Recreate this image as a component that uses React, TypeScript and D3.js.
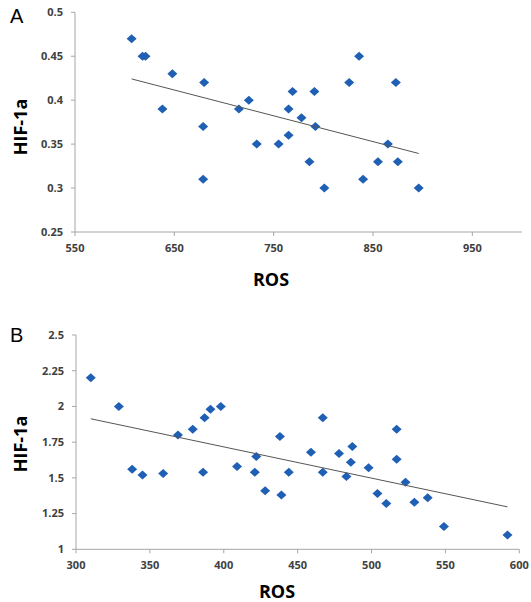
import * as d3 from "d3";

// panel A: ROS vs HIF-1a
const rosA = [607, 618, 621, 648, 680, 638, 679, 679, 715, 725, 733, 755, 765, 765, 769, 778, 791, 792, 786, 801, 826, 836, 840, 855, 865, 873, 875, 896];
const hifA = [0.47, 0.45, 0.45, 0.43, 0.42, 0.39, 0.37, 0.31, 0.39, 0.40, 0.35, 0.35, 0.39, 0.36, 0.41, 0.38, 0.41, 0.37, 0.33, 0.30, 0.42, 0.45, 0.31, 0.33, 0.35, 0.42, 0.33, 0.30];
const xTicksA = [550, 650, 750, 850, 950];
const yTicksA = [0.25, 0.3, 0.35, 0.4, 0.45, 0.5];

// panel B
const rosB = [310, 329, 338, 345, 359, 369, 379, 387, 386, 391, 398, 409, 422, 421, 428, 438, 439, 444, 459, 467, 467, 478, 487, 486, 483, 498, 504, 510, 517, 517, 523, 529, 538, 549, 592];
const hifB = [2.2, 2.0, 1.56, 1.52, 1.53, 1.8, 1.84, 1.92, 1.54, 1.98, 2.0, 1.58, 1.65, 1.54, 1.41, 1.79, 1.38, 1.54, 1.68, 1.92, 1.54, 1.67, 1.72, 1.61, 1.51, 1.57, 1.39, 1.32, 1.84, 1.63, 1.47, 1.33, 1.36, 1.16, 1.1];
const xTicksB = [300, 350, 400, 450, 500, 550, 600];
const yTicksB = [1, 1.25, 1.5, 1.75, 2, 2.25, 2.5];

const BLUE = "#1f5fb4";
const AXIS = "#a6a6a6";
const FONT = "'Open Sans', 'Liberation Sans', sans-serif";

function fit(xs: number[], ys: number[]) {
  const mx = d3.mean(xs)!;
  const my = d3.mean(ys)!;
  let sxy = 0, sxx = 0;
  xs.forEach((x, i) => {
    sxy += (x - mx) * (ys[i] - my);
    sxx += (x - mx) * (x - mx);
  });
  const b = sxy / sxx;
  return (x: number) => my + b * (x - mx);
}

type PanelProps = {
  letter: string;
  letterY: number;
  xs: number[];
  ys: number[];
  xDomain: [number, number];
  xRange: [number, number];
  yDomain: [number, number];
  yRange: [number, number];
  xTicks: number[];
  yTicks: number[];
  yLabelY: number;
  xLabelX: number;
  xLabelY: number;
};

const Panel = (p: PanelProps) => {
  const x = d3.scaleLinear().domain(p.xDomain).range(p.xRange);
  const y = d3.scaleLinear().domain(p.yDomain).range(p.yRange);
  const x0 = p.xRange[0];
  const y0 = p.yRange[0];
  const line = fit(p.xs, p.ys);
  const [minX, maxX] = d3.extent(p.xs) as [number, number];
  const diamond = "M0,-4.5L5,0L0,4.5L-5,0Z";
  const fmt = (v: number) => String(+v.toFixed(2));

  return (
    <g>
      <text x={10} y={p.letterY} fontFamily="'Liberation Sans', Arial, sans-serif" fontSize={20} fill="#000">
        {p.letter}
      </text>
      {/* y axis */}
      <line x1={x0} x2={x0} y1={p.yRange[1]} y2={y0} stroke={AXIS} />
      {p.yTicks.map((t) => (
        <g key={"y" + t}>
          <line x1={x0 - 4} x2={x0} y1={y(t)} y2={y(t)} stroke={AXIS} />
          <text x={x0 - 12} y={y(t)} dy="0.35em" textAnchor="end" fontFamily={FONT} fontWeight="bold" fontSize={11} fill="#404040">
            {fmt(t)}
          </text>
        </g>
      ))}
      {/* x axis */}
      <line x1={x0} x2={p.xRange[1]} y1={y0} y2={y0} stroke={AXIS} />
      {p.xTicks.map((t) => (
        <g key={"x" + t}>
          <line x1={x(t)} x2={x(t)} y1={y0} y2={y0 + 4} stroke={AXIS} />
          <text x={x(t)} y={y0 + 20} textAnchor="middle" fontFamily={FONT} fontWeight="bold" fontSize={11} fill="#404040">
            {t}
          </text>
        </g>
      ))}
      {p.xs.map((v, i) => (
        <path key={i} d={diamond} transform={`translate(${x(v)},${y(p.ys[i])})`} fill={BLUE} />
      ))}
      <line x1={x(minX)} y1={y(line(minX))} x2={x(maxX)} y2={y(line(maxX))} stroke="#555" strokeWidth={1} />
      <text transform={`translate(27,${p.yLabelY}) rotate(-90)`} textAnchor="middle" fontFamily={FONT} fontWeight="bold" fontSize={18} fill="#000">
        HIF-1a
      </text>
      <text x={p.xLabelX} y={p.xLabelY} textAnchor="middle" fontFamily={FONT} fontWeight="bold" fontSize={18} fill="#000">
        ROS
      </text>
    </g>
  );
};

export default function App() {
  return (
    <svg width={531} height={602} style={{ position: "absolute", left: 0, top: 0, background: "#fff" }}>
      <Panel
        letter="A"
        letterY={23}
        xs={rosA}
        ys={hifA}
        xDomain={[550, 1000]}
        xRange={[75, 522]}
        yDomain={[0.25, 0.5]}
        yRange={[232, 12.3]}
        xTicks={xTicksA}
        yTicks={yTicksA}
        yLabelY={127}
        xLabelX={271}
        xLabelY={286}
      />
      <Panel
        letter="B"
        letterY={342}
        xs={rosB}
        ys={hifB}
        xDomain={[300, 600]}
        xRange={[76, 519.3]}
        yDomain={[1, 2.5]}
        yRange={[549.3, 335]}
        xTicks={xTicksB}
        yTicks={yTicksB}
        yLabelY={444}
        xLabelX={277}
        xLabelY={598}
      />
    </svg>
  );
}
